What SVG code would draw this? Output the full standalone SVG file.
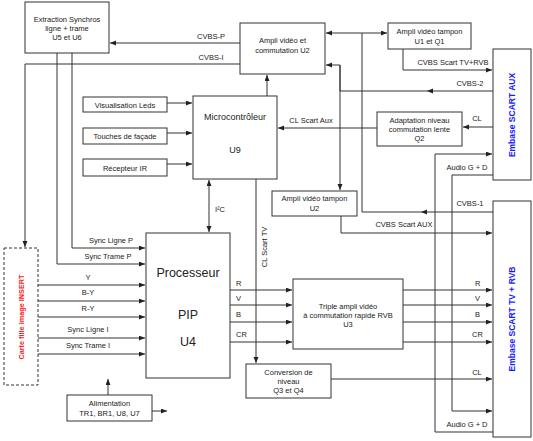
<svg xmlns="http://www.w3.org/2000/svg" width="533" height="441" viewBox="0 0 533 441">
<style>
.b{fill:#fff;stroke:#333;stroke-width:1}
.d{fill:#fff;stroke:#333;stroke-width:1;stroke-dasharray:3,2}
text{font-family:"Liberation Sans",Arial,sans-serif;font-size:7.5px;fill:#222}
.c{text-anchor:middle}
.big{font-size:12.5px}
.mid{font-size:9px}
.emb{font-weight:bold;fill:#1a1aff;font-size:8.5px;text-anchor:middle}
.red{font-weight:bold;fill:#ff2020;font-size:7.3px;text-anchor:middle}
.w{fill:none;stroke:#333;stroke-width:1}
.a{marker-end:url(#ah)}
</style>
<defs>
<marker id="ah" markerUnits="userSpaceOnUse" markerWidth="7" markerHeight="6" refX="6" refY="2.5" orient="auto-start-reverse">
<path d="M0,0 L6,2.5 L0,5 z" fill="#222"/>
</marker>
</defs>
<rect width="533" height="441" fill="#fff"/>

<g id="connectors">
<path class="w a" d="M240,43 H110"/>
<path class="w a" d="M240,64 H25 V247"/>
<path class="w a" d="M267,96 V75"/>
<path class="w a" d="M493,212 H421"/>
<path class="w a" d="M421,212 H362 V33 H326"/>
<path class="w a" d="M362,33 H387"/>
<path class="w a" d="M493,91 H427"/>
<path class="w a" d="M427,91 H340 V65 H326"/>
<path class="w a" d="M340,65 V190"/>
<path class="w a" d="M403,49 V70 H492"/>
<path class="w a" d="M493,127 H463"/>
<path class="w a" d="M377,128 H278"/>
<path class="w a" d="M167,103 H192"/>
<path class="w a" d="M167,133 H192"/>
<path class="w a" d="M167,164 H192"/>
<path class="w a" d="M209,180 V232" marker-start="url(#ah)"/>
<path class="w a" d="M256,179 V363"/>
<path class="w a" d="M341,216 V233 H492"/>
<path class="w a" d="M72,53 V248 H145"/>
<path class="w a" d="M57,53 V264 H145"/>
<path class="w a" d="M38,285 H145"/>
<path class="w a" d="M38,301 H145"/>
<path class="w a" d="M38,317 H145"/>
<path class="w a" d="M38,338 H145"/>
<path class="w a" d="M38,354 H145"/>
<path class="w a" d="M230,290 H292"/>
<path class="w a" d="M230,305 H292"/>
<path class="w a" d="M230,322 H292"/>
<path class="w a" d="M230,342 H292"/>
<path class="w a" d="M403,290 H492"/>
<path class="w a" d="M403,305 H492"/>
<path class="w a" d="M403,322 H492"/>
<path class="w a" d="M403,342 H492"/>
<path class="w a" d="M331,379 H492"/>
<path class="w a" d="M493,175 H452 V411 H492"/>
<path class="w a" d="M493,432 H435 V154 H492"/>
<path class="w a" d="M108,395 V379"/>
<path class="w a" d="M152,411 H167"/>
<text x="211" y="39" class="c">CVBS-P</text>
<text x="211" y="60" class="c">CVBS-I</text>
<text x="470" y="206" class="c">CVBS-1</text>
<text x="470" y="86" class="c">CVBS-2</text>
<text x="453" y="65" class="c">CVBS Scart TV+RVB</text>
<text x="477" y="121" class="c">CL</text>
<text x="311" y="123" class="c">CL Scart Aux</text>
<text x="215" y="212">I²C</text>
<text transform="translate(267,247) rotate(-90)" class="c">CL Scart TV</text>
<text x="404" y="227" class="c">CVBS Scart AUX</text>
<text x="111" y="243" class="c">Sync Ligne P</text>
<text x="108" y="259" class="c">Sync Trame P</text>
<text x="88" y="280" class="c">Y</text>
<text x="88" y="295" class="c">B-Y</text>
<text x="88" y="311" class="c">R-Y</text>
<text x="88" y="332" class="c">Sync Ligne I</text>
<text x="88" y="348" class="c">Sync Trame I</text>
<text x="236" y="286">R</text>
<text x="236" y="301">V</text>
<text x="236" y="317">B</text>
<text x="236" y="337">CR</text>
<text x="475" y="286">R</text>
<text x="475" y="301">V</text>
<text x="475" y="317">B</text>
<text x="472" y="337">CR</text>
<text x="477" y="375" class="c">CL</text>
<text x="467" y="170" class="c">Audio G + D</text>
<text x="467" y="427" class="c">Audio G + D</text>
</g>

<g id="extraction">
<rect class="b" x="25" y="2" width="84" height="51"/>
<text x="67" y="22" class="c">Extraction Synchros</text>
<text x="67" y="31" class="c">ligne + trame</text>
<text x="67" y="40" class="c">U5 et U6</text>
</g>
<g id="ampli-u2">
<rect class="b" x="240" y="23" width="85" height="51"/>
<text x="282.5" y="43" class="c">Ampli vidéo et</text>
<text x="282.5" y="53" class="c">commutation U2</text>
</g>
<g id="ampli-u1">
<rect class="b" x="388" y="23" width="83" height="26"/>
<text x="429.5" y="33.5" class="c">Ampli vidéo tampon</text>
<text x="429.5" y="43.5" class="c">U1 et Q1</text>
</g>
<g id="embase-aux">
<rect class="b" x="493" y="49" width="38" height="131"/>
<text transform="translate(515,115) rotate(-90)" class="emb">Embase SCART AUX</text>
</g>
<g id="micro">
<rect class="b" x="193" y="96" width="84" height="83"/>
<text x="235" y="120" class="c mid">Microcontrôleur</text>
<text x="235" y="153" class="c mid">U9</text>
</g>
<g id="leds">
<rect class="b" x="83" y="97" width="84" height="15"/>
<text x="125" y="107.5" class="c">Visualisation Leds</text>
</g>
<g id="touches">
<rect class="b" x="83" y="128" width="84" height="16"/>
<text x="125" y="139" class="c">Touches de façade</text>
</g>
<g id="ir">
<rect class="b" x="83" y="159" width="84" height="17"/>
<text x="125" y="170.5" class="c">Récepteur IR</text>
</g>
<g id="adaptation">
<rect class="b" x="377" y="112" width="85" height="34"/>
<text x="419.5" y="122.5" class="c">Adaptation niveau</text>
<text x="419.5" y="131.5" class="c">commutation lente</text>
<text x="419.5" y="140.5" class="c">Q2</text>
</g>
<g id="tampon-u2">
<rect class="b" x="272" y="191" width="85" height="25"/>
<text x="314.5" y="201" class="c">Ampli vidéo tampon</text>
<text x="314.5" y="211" class="c">U2</text>
</g>
<g id="embase-tv">
<rect class="b" x="493" y="201" width="38" height="236"/>
<text transform="translate(515,319) rotate(-90)" class="emb">Embase SCART TV + RVB</text>
</g>
<g id="carte-fille">
<rect class="d" x="4" y="248" width="34" height="137"/>
<text transform="translate(24,317) rotate(-90)" class="red">Carte fille Image INSERT</text>
</g>
<g id="pip">
<rect class="b" x="146" y="233" width="84" height="145"/>
<text x="188" y="277" class="c big">Processeur</text>
<text x="188" y="319" class="c big">PIP</text>
<text x="188" y="346" class="c big">U4</text>
</g>
<g id="triple">
<rect class="b" x="293" y="279" width="110" height="70"/>
<text x="348" y="308.5" class="c">Triple ampli vidéo</text>
<text x="348" y="317.5" class="c">à commutation rapide RVB</text>
<text x="348" y="326.5" class="c">U3</text>
</g>
<g id="conversion">
<rect class="b" x="246" y="364" width="85" height="34"/>
<text x="288.5" y="375" class="c">Conversion de</text>
<text x="288.5" y="384" class="c">niveau</text>
<text x="288.5" y="393" class="c">Q3 et Q4</text>
</g>
<g id="alimentation">
<rect class="b" x="67" y="395" width="85" height="26"/>
<text x="109.5" y="406" class="c">Alimentation</text>
<text x="109.5" y="415.5" class="c">TR1, BR1, U8, U7</text>
</g>
</svg>
